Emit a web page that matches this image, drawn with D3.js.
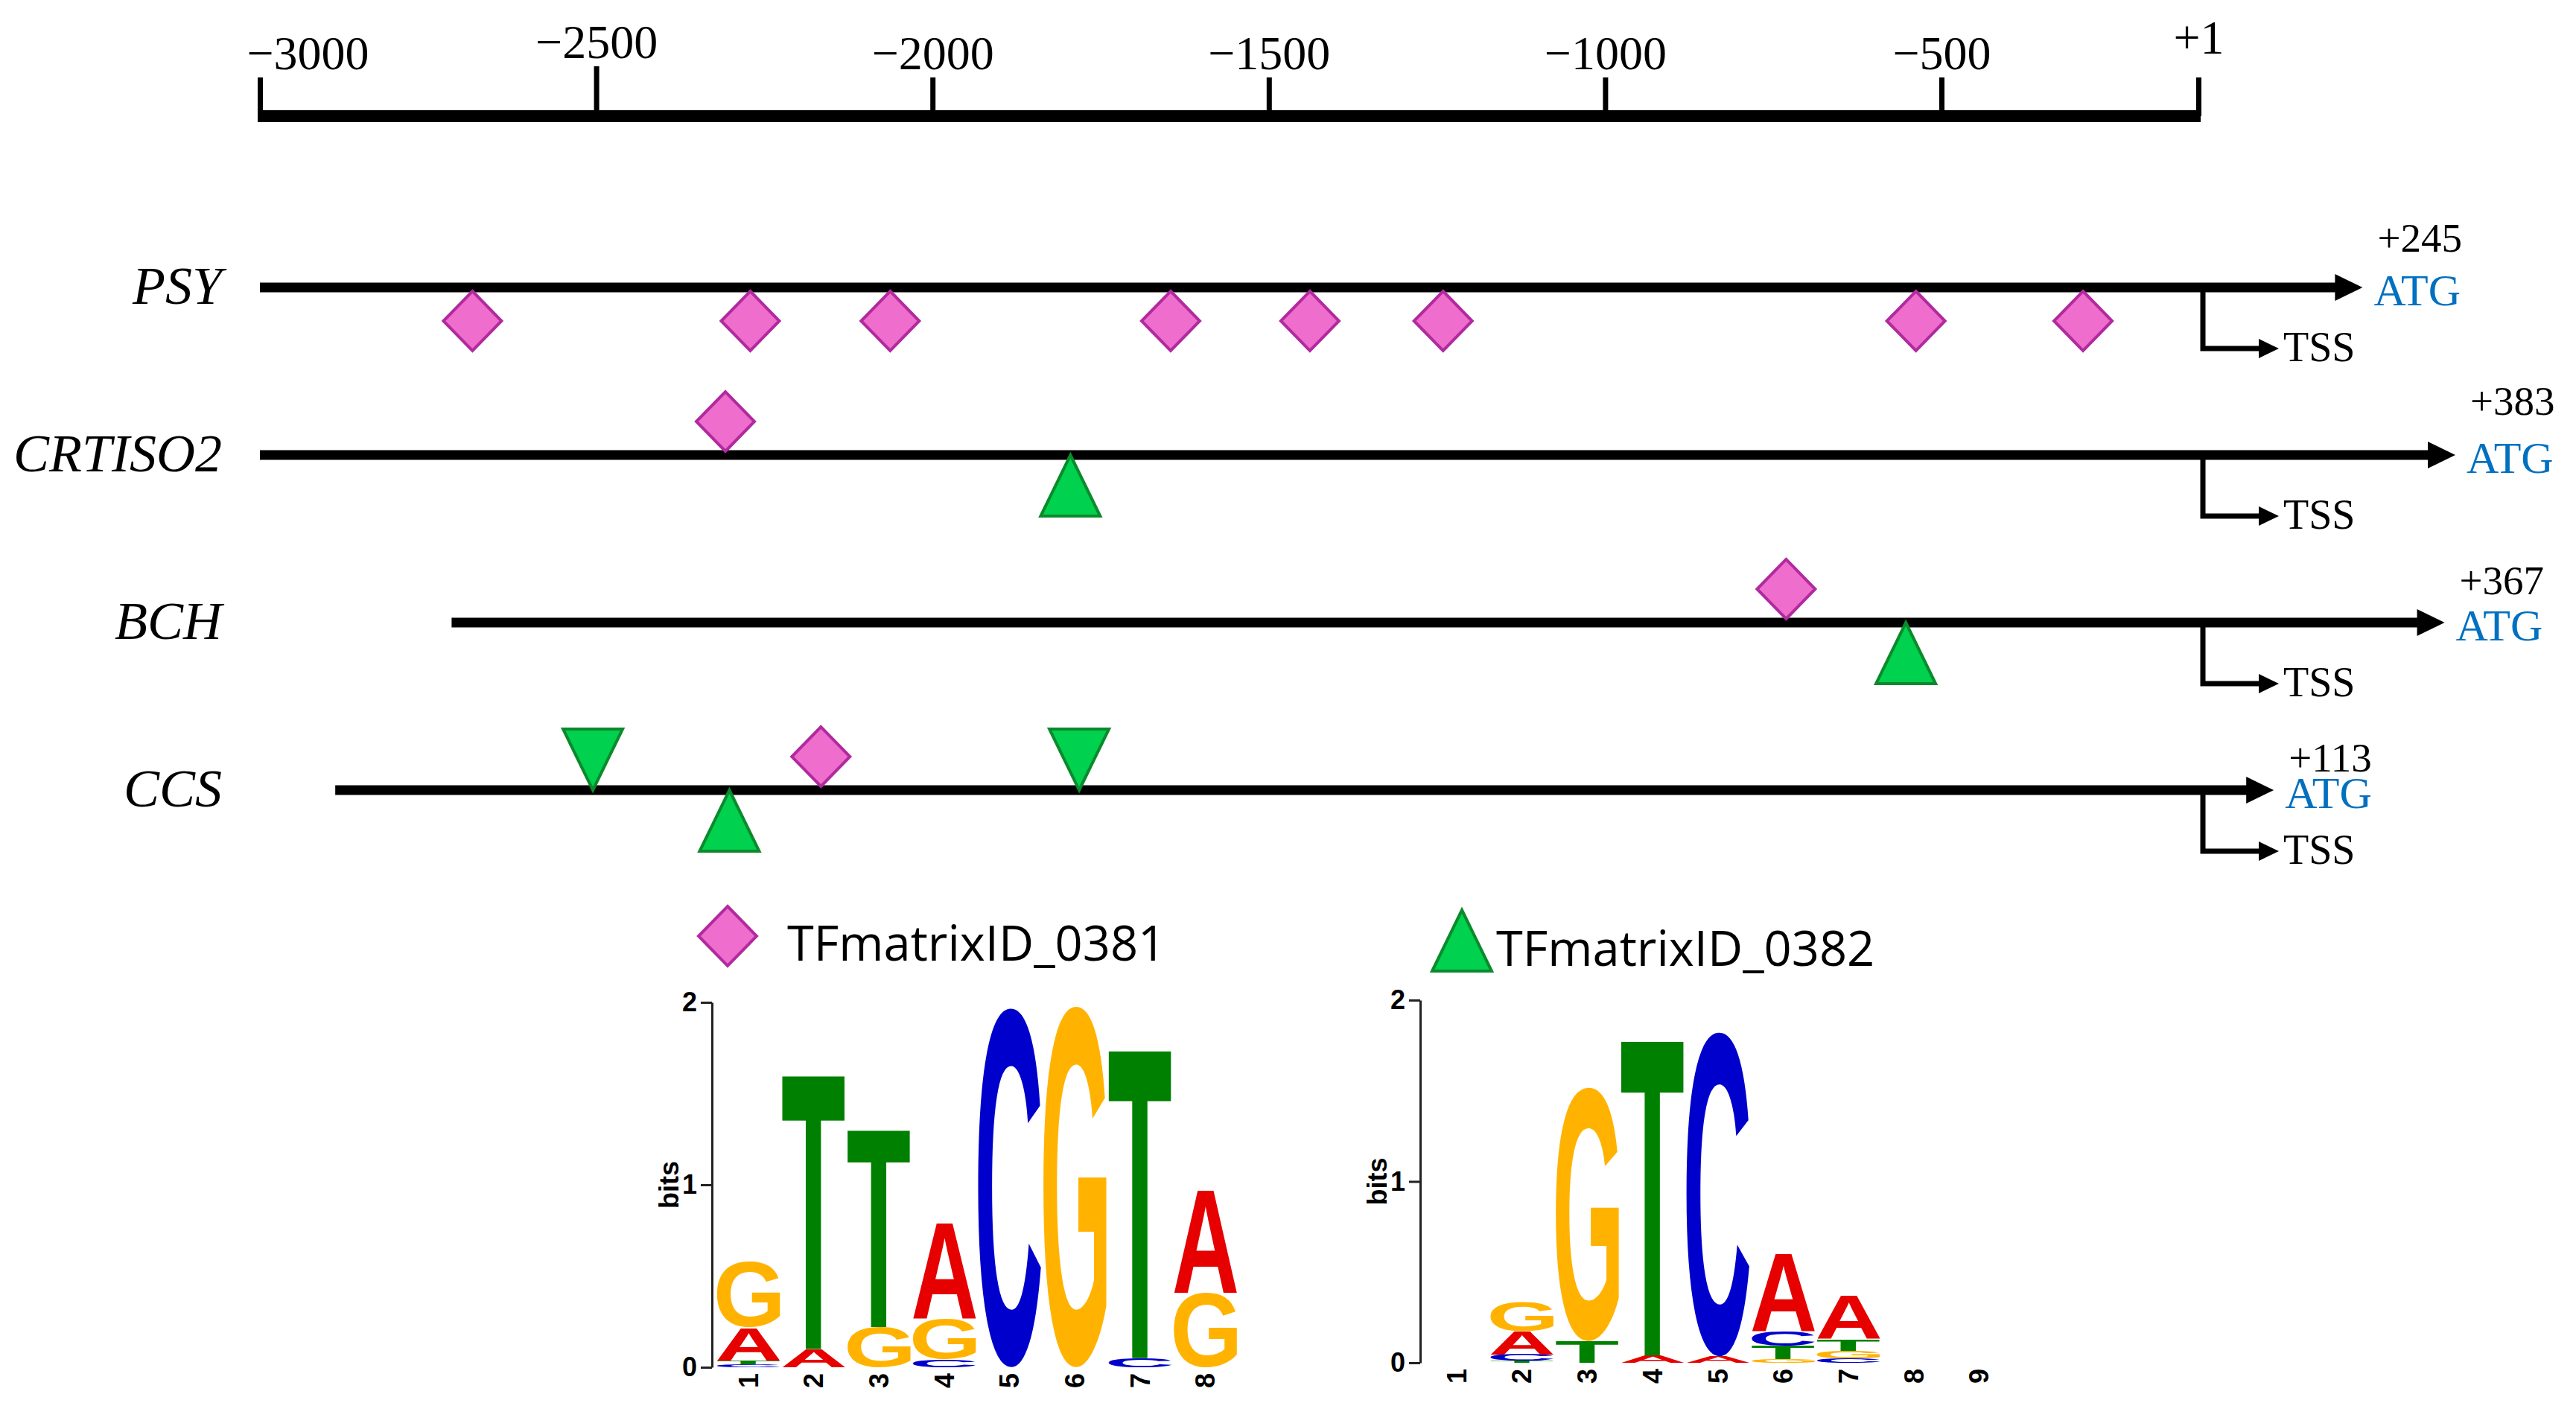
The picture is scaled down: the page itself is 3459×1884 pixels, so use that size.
<!DOCTYPE html>
<html lang="en">
<head>
<meta charset="UTF-8">
<title>Promoter binding sites</title>
<script src="https://d3js.org/d3.v7.min.js"></script>
<style>
  body { margin: 0; background: #fff; }
  svg { display: block; background: #fff; }
  .serif { font-family: "Liberation Serif", "Times New Roman", serif; }
  .logo text { font-family: "Liberation Sans", Arial, sans-serif; font-weight: bold; }
  .legend text { font-family: "Open Sans", "Noto Sans", sans-serif; }
</style>
</head>
<body>
<svg id="chart" width="3459" height="1884"></svg>
<script>
// ---- data ----
const axisTicks = [-3000, -2500, -2000, -1500, -1000, -500, 1];
const axisLabels = ["\u22123000", "\u22122500", "\u22122000", "\u22121500", "\u22121000", "\u2212500", "+1"];

const genes = ["PSY", "CRTISO2", "BCH", "CCS"];
const promoterStart = [-3000, -3000, -2715, -2888];
const atgPos = [245, 383, 367, 113];

// binding sites (bp from TSS), side of the promoter line
const sites0381 = [
  {gene: "PSY", pos: -2684, side: "below"},
  {gene: "PSY", pos: -2271, side: "below"},
  {gene: "PSY", pos: -2063, side: "below"},
  {gene: "PSY", pos: -1646, side: "below"},
  {gene: "PSY", pos: -1439, side: "below"},
  {gene: "PSY", pos: -1241, side: "below"},
  {gene: "PSY", pos: -538, side: "below"},
  {gene: "PSY", pos: -224, side: "below"},
  {gene: "CRTISO2", pos: -2308, side: "above"},
  {gene: "BCH", pos: -731, side: "above"},
  {gene: "CCS", pos: -2166, side: "above"}
];
const sites0382 = [
  {gene: "CRTISO2", pos: -1795, side: "below"},
  {gene: "BCH", pos: -553, side: "below"},
  {gene: "CCS", pos: -2505, side: "above"},
  {gene: "CCS", pos: -2302, side: "below"},
  {gene: "CCS", pos: -1782, side: "above"}
];

const motifNames = ["TFmatrixID_0381", "TFmatrixID_0382"];

// sequence logo heights (bits) per position
const motif0381 = [
  {A: 0.18, C: 0.018, G: 0.36, T: 0.02},
  {A: 0.10, C: 0, G: 0, T: 1.52},
  {A: 0, C: 0, G: 0.22, T: 1.095},
  {A: 0.53, C: 0.045, G: 0.22, T: 0},
  {A: 0, C: 1.97, G: 0, T: 0},
  {A: 0, C: 0, G: 1.98, T: 0},
  {A: 0, C: 0.05, G: 0, T: 1.71},
  {A: 0.57, C: 0, G: 0.41, T: 0}
];
const motif0382 = [
  {A: 0, C: 0, G: 0, T: 0},
  {A: 0.13, C: 0.035, G: 0.16, T: 0.01},
  {A: 0, C: 0, G: 1.40, T: 0.12},
  {A: 0.04, C: 0, G: 0, T: 1.76},
  {A: 0.035, C: 1.79, G: 0, T: 0},
  {A: 0.43, C: 0.08, G: 0.02, T: 0.075},
  {A: 0.24, C: 0.026, G: 0.04, T: 0.065},
  {A: 0, C: 0, G: 0, T: 0},
  {A: 0, C: 0, G: 0, T: 0}
];

// ---- layout ----
const svg = d3.select("#chart");
const xLeft = 349, x500 = 2607, xTss = 2952;
const pxPerBp = (x500 - xLeft) / 2500;
const x = d3.scaleLinear()
  .domain([-3000, -500, 1, 500])
  .range([xLeft, x500, xTss, xTss + 499 * pxPerBp]);
const rowY = d3.scalePoint().domain(genes).range([386, 1061]);
const plusLift = [48, 54, 38, 25];

const diamondFill = "#EF6DCC", diamondStroke = "#B12A9E";
const triFill = "#00D14E", triStroke = "#0B8A2C";
const baseColor = {A: "#E60000", C: "#0000CC", G: "#FFB300", T: "#008000"};

// ---- top axis ----
const axisG = svg.append("g")
  .attr("transform", "translate(0,156)")
  .call(d3.axisTop(x).tickValues(axisTicks).tickSize(52).tickSizeOuter(0).tickPadding(11)
    .tickFormat((d, i) => axisLabels[i]));
axisG.select(".domain")
  .attr("d", `M${x(-3000) - 3},0H${x(1) + 3}`)
  .attr("stroke", "#000").attr("stroke-width", 16);
axisG.selectAll(".tick line").attr("stroke", "#000").attr("stroke-width", 7)
  .attr("y2", d => d === -2500 ? -67 : -52);
axisG.selectAll(".tick text")
  .attr("class", "serif")
  .attr("font-size", 64)
  .attr("fill", "#000")
  .attr("y", d => d === -2500 ? -78 : d === 1 ? -84 : -63)
  .attr("text-anchor", d => d === -3000 ? "start" : "middle")
  .attr("dx", d => d === -3000 ? -18 : 0);
axisG.attr("font-family", null).attr("font-size", null);

// ---- marker shapes ----
function markerPath(type, cx, y, side) {
  const s = side === "below" ? 1 : -1;
  if (type === "diamond") {
    const t = y + s * 5, hw = 39, hh = 40;
    return `M${cx},${t} L${cx + hw},${t + s * hh} L${cx},${t + s * 2 * hh} L${cx - hw},${t + s * hh} Z`;
  }
  const h = 82, hw = 40;
  return `M${cx},${y} L${cx + hw},${y + s * h} L${cx - hw},${y + s * h} Z`;
}

// ---- gene rows ----
genes.forEach((g, i) => {
  const y = rowY(g);
  const row = svg.append("g");
  const tip = x(atgPos[i]);

  row.append("text").attr("class", "serif")
    .attr("x", 298).attr("y", y + 22)
    .attr("text-anchor", "end").attr("font-size", 72).attr("font-style", "italic")
    .text(g);

  row.append("line")
    .attr("x1", x(promoterStart[i])).attr("x2", tip - 36)
    .attr("y1", y).attr("y2", y)
    .attr("stroke", "#000").attr("stroke-width", 13);
  row.append("path")
    .attr("d", `M${tip},${y} L${tip - 37},${y - 18} L${tip - 37},${y + 18} Z`)
    .attr("fill", "#000");

  row.append("text").attr("class", "serif")
    .attr("x", tip + 20).attr("y", y - plusLift[i])
    .attr("font-size", 55).text("+" + atgPos[i]);
  row.append("text").attr("class", "serif")
    .attr("x", tip + 15).attr("y", y + 24)
    .attr("font-size", 60).attr("fill", "#0070C0").text("ATG");

  // TSS bent arrow
  const vx = x(1) + 6, hy = y + 82, ht = vx + 102;
  row.append("path")
    .attr("d", `M${vx},${y} V${hy} H${ht - 24}`)
    .attr("fill", "none").attr("stroke", "#000").attr("stroke-width", 7);
  row.append("path")
    .attr("d", `M${ht},${hy} L${ht - 27},${hy - 13} L${ht - 27},${hy + 13} Z`)
    .attr("fill", "#000");
  row.append("text").attr("class", "serif")
    .attr("x", ht + 6).attr("y", hy + 17)
    .attr("font-size", 56).text("TSS");
});

svg.append("g").selectAll("path")
  .data(sites0381)
  .join("path")
  .attr("d", d => markerPath("diamond", x(d.pos), rowY(d.gene), d.side))
  .attr("fill", diamondFill).attr("stroke", diamondStroke).attr("stroke-width", 4)
  .attr("stroke-linejoin", "miter");

svg.append("g").selectAll("path")
  .data(sites0382)
  .join("path")
  .attr("d", d => markerPath("triangle", x(d.pos), rowY(d.gene), d.side))
  .attr("fill", triFill).attr("stroke", triStroke).attr("stroke-width", 4);

// ---- legend ----
const legend = svg.append("g").attr("class", "legend");
legend.append("path")
  .attr("d", markerPath("diamond", 977, 1212, "below"))
  .attr("fill", diamondFill).attr("stroke", diamondStroke).attr("stroke-width", 4);
legend.append("text").attr("x", 1057).attr("y", 1290).attr("font-size", 65).text(motifNames[0]);
legend.append("path")
  .attr("d", markerPath("triangle", 1963, 1222, "below"))
  .attr("fill", triFill).attr("stroke", triStroke).attr("stroke-width", 4);
legend.append("text").attr("x", 2009).attr("y", 1297).attr("font-size", 65).text(motifNames[1]);

// ---- sequence logos ----
const ctx = document.createElement("canvas").getContext("2d");
ctx.font = "bold 100px 'Liberation Sans'";
const glyph = {};
["A", "C", "G", "T"].forEach(L => {
  const m = ctx.measureText(L);
  glyph[L] = {
    left: m.actualBoundingBoxLeft, asc: m.actualBoundingBoxAscent,
    w: m.actualBoundingBoxLeft + m.actualBoundingBoxRight,
    h: m.actualBoundingBoxAscent + m.actualBoundingBoxDescent
  };
});

const logos = [
  {motif: motif0381, axisX: 956, y0: 1836, y2: 1346},
  {motif: motif0382, axisX: 1907, y0: 1830, y2: 1343}
];

logos.forEach(cfg => {
  const n = cfg.motif.length;
  const g = svg.append("g").attr("class", "logo");
  const band = d3.scaleBand().domain(d3.range(1, n + 1))
    .range([cfg.axisX + 4, cfg.axisX + 4 + n * 88]).padding(0.03);
  const yb = d3.scaleLinear().domain([0, 2]).range([cfg.y0, cfg.y2]);

  cfg.motif.forEach((col, i) => {
    const stack = Object.entries(col).filter(([, v]) => v > 0.004).sort((a, b) => a[1] - b[1]);
    let acc = 0;
    stack.forEach(([L, v]) => {
      const top = yb(acc + v), bot = yb(acc);
      acc += v;
      const gl = glyph[L];
      const sx = band.bandwidth() / gl.w, sy = (bot - top) / gl.h;
      g.append("text")
        .attr("font-size", 100).attr("fill", baseColor[L])
        .attr("transform", `translate(${band(i + 1)},${top}) scale(${sx},${sy}) translate(${gl.left},${gl.asc})`)
        .text(L);
    });
    g.append("text")
      .attr("font-size", 36)
      .attr("text-anchor", "end")
      .attr("dy", "0.35em")
      .attr("transform", `translate(${band(i + 1) + band.bandwidth() / 2},${cfg.y0 + 8}) rotate(-90)`)
      .text(i + 1);
  });

  const ax = g.append("g")
    .attr("transform", `translate(${cfg.axisX},0)`)
    .call(d3.axisLeft(yb).tickValues([0, 1, 2]).tickSize(15).tickSizeOuter(0).tickPadding(5).tickFormat(d3.format("d")));
  ax.attr("font-family", null);
  ax.select(".domain").attr("stroke", "#222").attr("stroke-width", 3);
  ax.selectAll(".tick line").attr("stroke", "#222").attr("stroke-width", 3);
  ax.selectAll(".tick text").attr("font-size", 36).attr("fill", "#000");

  g.append("text")
    .attr("font-size", 36)
    .attr("text-anchor", "middle")
    .attr("dy", "0.35em")
    .attr("transform", `translate(${cfg.axisX - 58},${(cfg.y0 + cfg.y2) / 2}) rotate(-90)`)
    .text("bits");
});
</script>
</body>
</html>
